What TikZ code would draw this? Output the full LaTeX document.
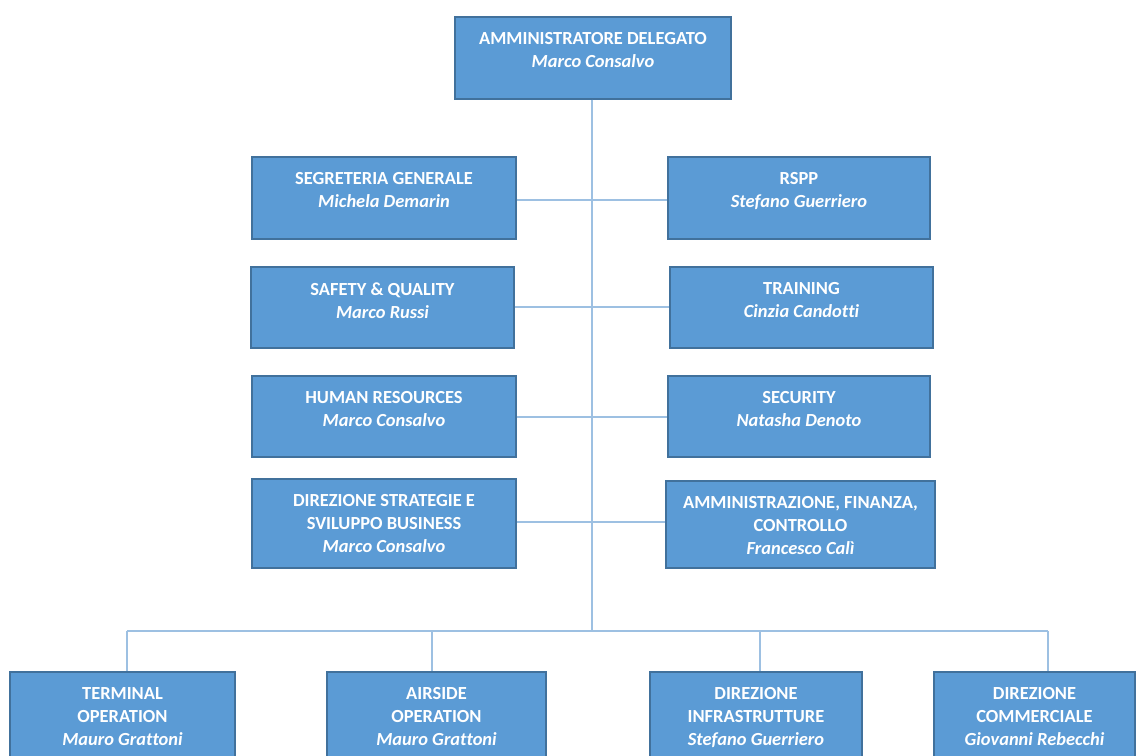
\documentclass[tikz,border=0pt]{standalone}
\usepackage{fontspec}
\setmainfont{Carlito}[Ligatures=NoCommon]
\usepackage{xcolor}
\usetikzlibrary{positioning}
\definecolor{unitfill}{RGB}{91,155,213}
\definecolor{unitedge}{RGB}{65,113,156}
\definecolor{linkblue}{RGB}{157,192,226}

\begin{document}
\begin{tikzpicture}[x=0.2mm,y=-0.2mm,node distance=3.2mm]
  \tikzstyle{unit}=[draw=unitedge,line width=0.3mm,fill=unitfill,inner sep=0pt]
  \tikzstyle{caption}=[text=white,inner sep=0pt,align=center,
    font=\fontsize{10.5}{13}\selectfont\bfseries]
  \tikzstyle{link}=[draw=linkblue,line width=0.4mm]
  \useasboundingbox (0,0) rectangle (1137,756);
  \clip (0,0) rectangle (1137,756);

  % boxes
  \node[unit,minimum width=55.2mm,minimum height=16.4mm] (ad)    at (593,58)    {};
  \node[unit,minimum width=52.8mm,minimum height=16.4mm] (seg)   at (384,198)   {};
  \node[unit,minimum width=52.4mm,minimum height=16.4mm] (rspp)  at (799,198)   {};
  \node[unit,minimum width=52.6mm,minimum height=16.2mm] (safe)  at (382.5,307.5) {};
  \node[unit,minimum width=52.6mm,minimum height=16.2mm] (train) at (801.5,307.5) {};
  \node[unit,minimum width=52.8mm,minimum height=16.2mm] (hr)    at (384,416.5) {};
  \node[unit,minimum width=52.4mm,minimum height=16.2mm] (sec)   at (799,416.5) {};
  \node[unit,minimum width=52.8mm,minimum height=17.8mm] (strat) at (384,523.5) {};
  \node[unit,minimum width=53.8mm,minimum height=17.4mm] (afc)   at (800.5,524.5) {};
  \node[unit,minimum width=45mm,  minimum height=19mm,anchor=north] (term)  at (122.5,671) {};
  \node[unit,minimum width=43.8mm,minimum height=19mm,anchor=north] (air)   at (436.5,671) {};
  \node[unit,minimum width=42.4mm,minimum height=19mm,anchor=north] (infra) at (756,671)   {};
  \node[unit,minimum width=40.2mm,minimum height=19mm,anchor=north] (comm)  at (1034.5,671) {};

  % texts
  \node[caption,below=of ad.north]    (ad-t)    {AMMINISTRATORE DELEGATO\\\textit{Marco Consalvo}};
  \node[caption,below=of seg.north]   (seg-t)   {SEGRETERIA GENERALE\\\textit{Michela Demarin}};
  \node[caption,below=of rspp.north]  (rspp-t)  {RSPP\\\textit{Stefano Guerriero}};
  \node[caption,below=of safe.north]  (safe-t)  {SAFETY \& QUALITY\\\textit{Marco Russi}};
  \node[caption,below=of train.north] (train-t) {TRAINING\\\textit{Cinzia Candotti}};
  \node[caption,below=of hr.north]    (hr-t)    {HUMAN RESOURCES\\\textit{Marco Consalvo}};
  \node[caption,below=of sec.north]   (sec-t)   {SECURITY\\\textit{Natasha Denoto}};
  \node[caption,below=of strat.north] (strat-t) {DIREZIONE STRATEGIE E\\SVILUPPO BUSINESS\\\textit{Marco Consalvo}};
  \node[caption,below=of afc.north]   (afc-t)   {AMMINISTRAZIONE, FINANZA,\\CONTROLLO\\\textit{Francesco Calì}};
  \node[caption,below=of term.north]  (term-t)  {TERMINAL\\OPERATION\\\textit{Mauro Grattoni}};
  \node[caption,below=of air.north]   (air-t)   {AIRSIDE\\OPERATION\\\textit{Mauro Grattoni}};
  \node[caption,below=of infra.north] (infra-t) {DIREZIONE\\INFRASTRUTTURE\\\textit{Stefano Guerriero}};
  \node[caption,below=of comm.north]  (comm-t)  {DIREZIONE\\COMMERCIALE\\\textit{Giovanni Rebecchi}};

  % connectors
  \coordinate (bus) at (592,631);
  \coordinate (d1)  at (127,631);
  \coordinate (d2)  at (432,631);
  \coordinate (d3)  at (760,631);
  \coordinate (d4)  at (1048,631);
  \path[link] (ad.south -| bus) edge (bus)
              (d1) edge (d4)
              (d1) edge (d1 |- term.north)
              (d2) edge (d2 |- air.north)
              (d3) edge (d3 |- infra.north)
              (d4) edge (d4 |- comm.north)
              (seg.east |- 0,200) edge (rspp.west |- 0,200)
              (safe)  edge (train)
              (hr)    edge (sec)
              (strat.east |- 0,522) edge (afc.west |- 0,522);
\end{tikzpicture}
\end{document}
